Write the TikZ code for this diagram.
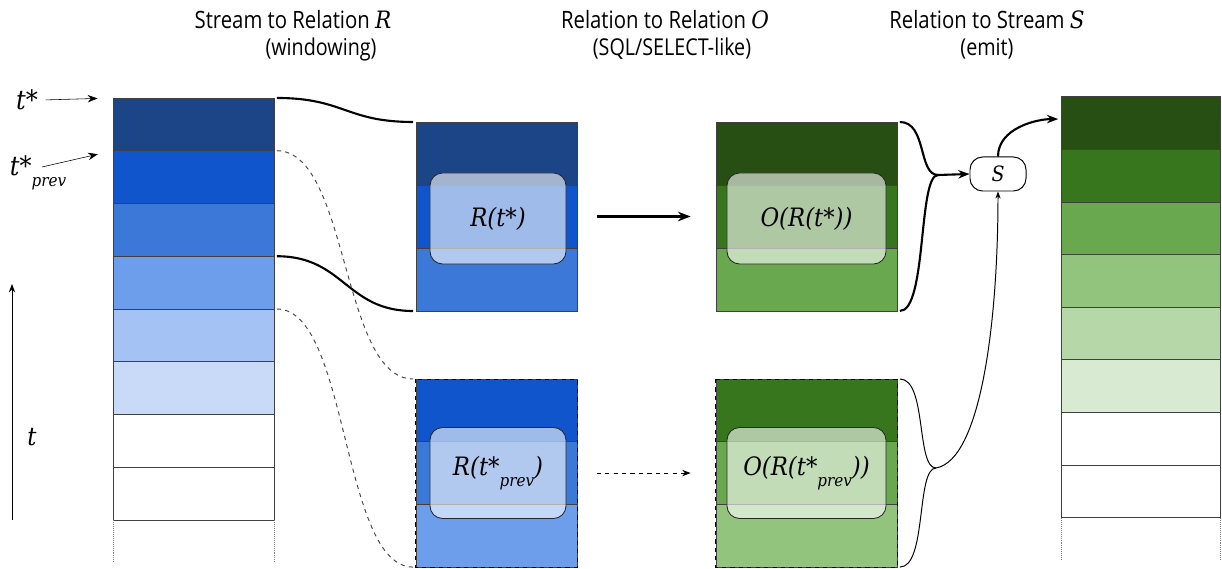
\documentclass[tikz,border=0pt]{standalone}
\usepackage{fontspec}
\setmainfont[FakeStretch=0.85]{Open Sans}
\newfontfamily\serfont[FakeStretch=0.9]{DejaVu Serif}
\usetikzlibrary{arrows.meta}

\definecolor{dblueiii}{HTML}{1C4587}
\definecolor{dblueii}{HTML}{1155CC}
\definecolor{dbluei}{HTML}{3C78D8}
\definecolor{lbluei}{HTML}{6D9EEB}
\definecolor{lblueii}{HTML}{A4C2F4}
\definecolor{lblueiii}{HTML}{C9DAF8}
\definecolor{dgreeniii}{HTML}{274E13}
\definecolor{dgreenii}{HTML}{38761D}
\definecolor{dgreeni}{HTML}{6AA84F}
\definecolor{lgreeni}{HTML}{93C47D}
\definecolor{lgreenii}{HTML}{B6D7A8}
\definecolor{lgreeniii}{HTML}{D9EAD3}

\newcommand\lab[1]{{\serfont\itshape #1}}
\newcommand\prv{\raisebox{-0.8ex}{\fontsize{12}{12}\selectfont prev}}

\tikzset{
    cell/.style={draw=black!75, line width=0.6pt, inner sep=0pt, outer sep=0pt},
    scell/.style={cell, minimum width=4.025cm, minimum height=1.319cm},
    window/.style={draw=black!85, line width=0.6pt, rounded corners=9pt, fill=white,
        fill opacity=0.6, text opacity=1, minimum height=2.275cm,
        font=\fontsize{18}{20}\selectfont},
    title/.style={font=\fontsize{17}{20}\selectfont},
    sub/.style={font=\fontsize{16.5}{18}\selectfont},
    brace/.style={line width=1.5pt},
    window link/.style={line width=0.7pt, black!70, dashed},
}

\begin{document}
\begin{tikzpicture}[x=0.025cm, y=-0.025cm]
\useasboundingbox (0,0) rectangle (1222,569);

% headings
\node[title] (h1) at (293,20) {Stream to Relation \lab{R}};
\node[sub] (h1s) at (321,49) {(windowing)};
\node[title] (h2) at (665,20) {Relation to Relation \lab{O}};
\node[sub] (h2s) at (672,49) {(SQL/SELECT-like)};
\node[title] (h3) at (987,20) {Relation to Stream \lab{S}};
\node[sub] (h3s) at (987,49) {(emit)};

% input stream
\foreach \c [count=\i] in {dblueiii,dblueii,dbluei,lbluei,lblueii,lblueiii,white,white}
    \node[scell, fill=\c] (s\i) at (193.5, {98+52.75*(\i-0.5)}) {};
\draw[densely dotted, black!50] (s8.south west) -- +(0,42);
\draw[densely dotted, black!50] (s8.south east) -- +(0,42);

% output stream
\foreach \c [count=\i] in {dgreeniii,dgreenii,dgreeni,lgreeni,lgreenii,lgreeniii,white,white}
    \node[scell, minimum width=3.975cm, fill=\c] (o\i) at (1140.5, {97+52.6*(\i-0.5)}) {};
\draw[densely dotted, black!50] (o8.south west) -- +(0,42);
\draw[densely dotted, black!50] (o8.south east) -- +(0,42);

% time labels
\node (ts) at (27,100) {\fontsize{19}{20}\selectfont\lab{t*}};
\node (tp) at (38,173) {\fontsize{19}{20}\selectfont\lab{t*\prv}};
\coordinate (tpa) at (42,167);
\draw[-{Stealth[length=7pt]}, shorten <=2pt, shorten >=11pt] (ts.east) -- (s1.north west);
\draw[-{Stealth[length=7pt]}, shorten >=11pt] (tpa) -- (s2.north west);
\coordinate (tb) at (12,520);
\coordinate (tt) at (12,284);
\draw[-{Stealth[length=6pt]}, line width=0.7pt] (tb) -- (tt);
\node (tl) at (32,437) {\fontsize{18}{20}\selectfont\lab{t}};

% relations
\foreach \c [count=\i] in {dblueiii,dblueii,dbluei}
    \node[cell, minimum width=4.025cm, minimum height=1.575cm, fill=\c] (rt\i) at (496.5, {122+63*(\i-0.5)}) {};
\foreach \c [count=\i] in {dblueii,dbluei,lbluei}
    \node[cell, minimum width=4.025cm, minimum height=1.567cm, fill=\c] (rp\i) at (496.5, {379+62.7*(\i-0.5)}) {};
\foreach \c [count=\i] in {dgreeniii,dgreenii,dgreeni}
    \node[cell, minimum width=4.525cm, minimum height=1.575cm, fill=\c] (ot\i) at (806.5, {122+63*(\i-0.5)}) {};
\foreach \c [count=\i] in {dgreenii,dgreeni,lgreeni}
    \node[cell, minimum width=4.525cm, minimum height=1.567cm, fill=\c] (op\i) at (806.5, {379+62.7*(\i-0.5)}) {};
\draw[dashed, line width=0.7pt] (rp1.north west) rectangle (rp3.south east);
\draw[dashed, line width=0.7pt] (op1.north west) rectangle (op3.south east);

\node[window, minimum width=3.4cm] (wrt) at (498,218.5) {\lab{R(t*)}};
\node[window, minimum width=3.975cm] (wot) at (806.5,218.5) {\lab{O(R(t*))}};
\node[window, minimum width=3.4cm] (wrp) at (498,473) {\lab{R(t*\prv)}};
\node[window, minimum width=3.975cm] (wop) at (806.5,473) {\lab{O(R(t*\prv))}};

\draw[line width=1.5pt, -{Stealth[length=9pt]}, shorten <=14pt, shorten >=18pt] (rt2) -- (ot2);
\draw[line width=0.7pt, dashed, -{Stealth[length=6pt]}, shorten <=14pt, shorten >=18pt] (rp2) -- (op2);

% windowing
\draw[brace, shorten <=2pt, shorten >=2pt] (s1.north east) .. controls +(70,0) and +(-70,0) .. (rt1.north west);
\draw[brace, shorten <=2pt, shorten >=2pt] (s4.north east) .. controls +(70,0) and +(-70,0) .. (rt3.south west);
\draw[window link, shorten <=2pt, shorten >=2pt] (s2.north east) .. controls +(75,0) and +(-75,0) .. (rp1.north west);
\draw[window link, shorten <=2pt, shorten >=2pt] (s5.north east) .. controls +(75,0) and +(-75,0) .. (rp3.south west);

% emit
\node[draw, line width=0.7pt, rounded corners=9pt, minimum width=1.4cm, minimum height=0.85cm,
    font=\fontsize{15}{18}\selectfont] (emit) at (998,174) {\lab{S}};
\coordinate (jt) at (938,175);
\coordinate (jb) at (936,468);
\draw[brace, shorten <=2pt] (ot1.north east) .. controls +(30,0) and +(-20,0) .. (jt);
\draw[brace, shorten <=2pt] (ot3.south east) .. controls +(30,0) and +(-20,0) .. (jt);
\draw[brace, -{Stealth[length=8pt]}] (jt) -- (emit.west);
\draw[brace, -{Stealth[length=8pt]}, shorten >=2pt] (emit.north) .. controls +(0,-28) and +(-25,0) .. ([yshift=3pt]o1.west);
\draw[line width=0.7pt, shorten <=2pt] (op1.north east) .. controls +(30,0) and +(-20,0) .. (jb);
\draw[line width=0.7pt, shorten <=2pt] (op3.south east) .. controls +(30,0) and +(-20,0) .. (jb);
\draw[line width=0.7pt, -{Stealth[length=5pt]}] (jb) .. controls +(45,-8) and +(0,130) .. (emit.south);
\end{tikzpicture}
\end{document}
